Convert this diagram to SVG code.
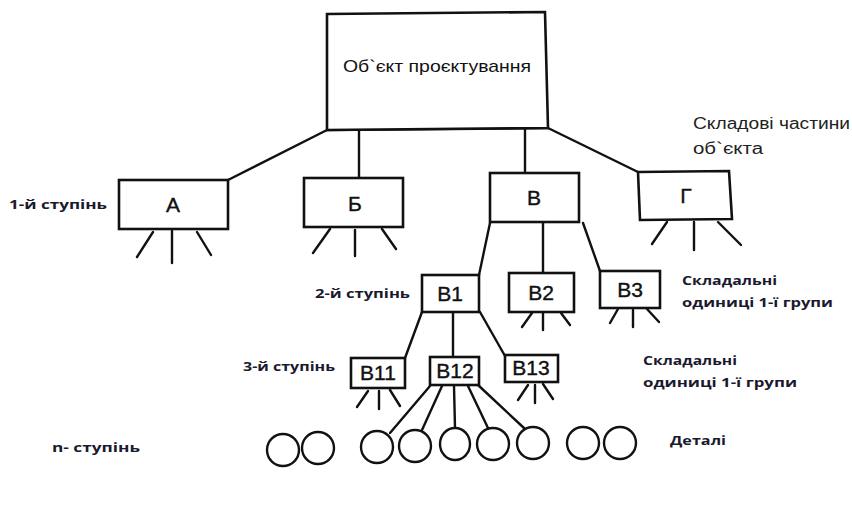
<svg xmlns="http://www.w3.org/2000/svg" width="852" height="519" viewBox="0 0 852 519">
<style>
.box{fill:#fff;stroke:#111;stroke-width:2.6}
.ln{stroke:#111;stroke-width:2.4;fill:none;stroke-linecap:round}
.det{fill:#fff;stroke:#111;stroke-width:2.4}
.nl{font-family:"Liberation Sans",Arial,sans-serif;font-size:21px;fill:#111;text-anchor:middle;stroke:#111;stroke-width:0.4}
.nls{font-family:"Liberation Sans",Arial,sans-serif;font-size:17px;fill:#111;text-anchor:middle}
.lab{font-family:"Open Sans","Liberation Sans",sans-serif;font-weight:bold;font-size:13px;fill:#1a1a2e}
.cap{font-family:"Liberation Sans",Arial,sans-serif;font-size:16px;fill:#222}
</style>
<rect width="852" height="519" fill="#fff"/>
<g id="connectors">
<path class="ln" d="M327,130 L548,128"/>
<path class="ln" d="M327,130 L228,180"/>
<path class="ln" d="M359,130 L359,178"/>
<path class="ln" d="M525,129 L525,173"/>
<path class="ln" d="M548,128 L638,172"/>
<path class="ln" d="M490,223 L479,275"/>
<path class="ln" d="M543,223 L543,273"/>
<path class="ln" d="M583,223 L600,271"/>
<path class="ln" d="M422,312 L405,358"/>
<path class="ln" d="M453,312 L453,357"/>
<path class="ln" d="M480,312 L505,356"/>
<path class="ln" d="M430,386 L390,433"/>
<path class="ln" d="M442,386 L422,430"/>
<path class="ln" d="M454,386 L455,428"/>
<path class="ln" d="M468,386 L488,428"/>
<path class="ln" d="M478,385 L524,428"/>
</g>
<g id="top">
<path class="box" d="M327,14 L545,12 L548,128 L327,130 Z"/>
<text class="nls" x="437" y="72" textLength="188" lengthAdjust="spacingAndGlyphs">Об`єкт проєктування</text>
</g>
<g id="A">
<rect class="box" x="119" y="180" width="109" height="49"/>
<text class="nl" x="173" y="212">А</text>
<path class="ln" d="M153,232 L137,257 M172,231 L172,263 M197,232 L211,255"/>
</g>
<g id="B">
<rect class="box" x="304" y="178" width="99" height="49"/>
<text class="nl" x="355" y="211">Б</text>
<path class="ln" d="M330,229 L313,253 M355,230 L355,256 M382,229 L396,249"/>
</g>
<g id="V">
<rect class="box" x="490" y="173" width="89" height="49"/>
<text class="nl" x="534" y="205">В</text>
</g>
<g id="G">
<path class="box" d="M638,172 L729,171 L732,219 L640,220 Z"/>
<text class="nl" x="686" y="203">Г</text>
<path class="ln" d="M667,222 L652,244 M694,222 L694,250 M718,222 L741,245"/>
</g>
<g id="V1">
<rect class="box" x="422" y="275" width="57" height="37"/>
<text class="nl" x="450" y="301" font-size="19">В1</text>
</g>
<g id="V2">
<rect class="box" x="509" y="273" width="65" height="39"/>
<text class="nl" x="541" y="300" font-size="19">В2</text>
<path class="ln" d="M532,313 L522,327 M543,313 L543,330 M561,313 L570,325"/>
</g>
<g id="V3">
<rect class="box" x="600" y="271" width="60" height="37"/>
<text class="nl" x="630" y="297" font-size="19">В3</text>
<path class="ln" d="M618,309 L610,323 M633,310 L633,327 M647,309 L659,322"/>
</g>
<g id="V11">
<rect class="box" x="351" y="358" width="54" height="30"/>
<text class="nl" x="378" y="380" font-size="16">В11</text>
<path class="ln" d="M368,391 L357,407 M379,391 L379,409 M390,390 L400,406"/>
</g>
<g id="V12">
<rect class="box" x="430" y="357" width="49" height="28"/>
<text class="nl" x="455" y="378" font-size="16">В12</text>
</g>
<g id="V13">
<rect class="box" x="505" y="355" width="53" height="27"/>
<text class="nl" x="531" y="375" font-size="16">В13</text>
<path class="ln" d="M528,385 L518,400 M535,385 L535,403 M543,384 L553,399"/>
</g>
<g id="details">
<ellipse class="det" cx="283" cy="450" rx="16" ry="16"/>
<ellipse class="det" cx="318" cy="448" rx="16" ry="16"/>
<ellipse class="det" cx="377" cy="447" rx="16" ry="16"/>
<ellipse class="det" cx="415" cy="446" rx="16" ry="16"/>
<ellipse class="det" cx="455" cy="444" rx="15" ry="16"/>
<ellipse class="det" cx="493" cy="444" rx="16" ry="16"/>
<ellipse class="det" cx="533" cy="443" rx="16" ry="16"/>
<ellipse class="det" cx="583" cy="443" rx="16" ry="16"/>
<ellipse class="det" cx="620" cy="443" rx="16" ry="16"/>
</g>
<g id="labels">
<text class="lab" x="9" y="209" textLength="98" lengthAdjust="spacingAndGlyphs">1-й ступінь</text>
<text class="lab" x="315" y="298" textLength="95" lengthAdjust="spacingAndGlyphs">2-й ступінь</text>
<text class="lab" x="243" y="371" textLength="92" lengthAdjust="spacingAndGlyphs">3-й ступінь</text>
<text class="lab" x="52" y="452" textLength="88" lengthAdjust="spacingAndGlyphs">n- ступінь</text>
<text class="lab" x="670" y="445" textLength="56" lengthAdjust="spacingAndGlyphs">Деталі</text>
<text class="lab" x="682" y="285" textLength="95" lengthAdjust="spacingAndGlyphs">Складальні</text>
<text class="lab" x="682" y="307" textLength="151" lengthAdjust="spacingAndGlyphs">одиниці 1-ї групи</text>
<text class="lab" x="643" y="365" textLength="94" lengthAdjust="spacingAndGlyphs">Складальні</text>
<text class="lab" x="643" y="387" textLength="154" lengthAdjust="spacingAndGlyphs">одиниці 1-ї групи</text>
<text class="cap" x="693" y="129" textLength="157" lengthAdjust="spacingAndGlyphs">Складові частини</text>
<text class="cap" x="693" y="154" textLength="70" lengthAdjust="spacingAndGlyphs">об`єкта</text>
</g>
</svg>
